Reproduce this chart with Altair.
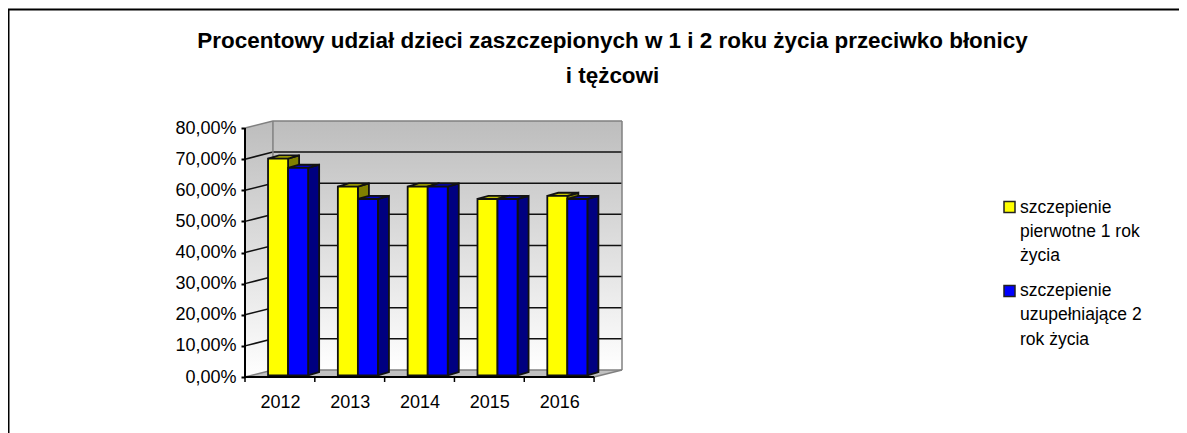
import altair as alt
import pandas as pd

years = ["2012", "2013", "2014", "2015", "2016"]
first_year = [70, 61, 61, 57, 58]
second_year = [67, 57, 61, 57, 57]
series_names = ["szczepienie pierwotne 1 rok życia", "szczepienie uzupełniające 2 rok życia"]
legend_lines = [["szczepienie", "pierwotne 1 rok", "życia"], ["szczepienie", "uzupełniające 2", "rok życia"]]
title_lines = ["Procentowy udział dzieci zaszczepionych w 1 i 2 roku życia przeciwko błonicy", "i tężcowi"]
grid_values = [0, 10, 20, 30, 40, 50, 60, 70, 80]

W, H = 377, 264
DX, DY = 0.4, 2.26          # perspective depth of the walls, in data units
XMAX = 5 + DX
YMIN, YMAX = -2.57, 80 + DY
BX, BY = 0.158, 1.0         # perspective depth of a bar
BASE = 0.55
LIFT = 0.2

xs = alt.Scale(domain=[0, XMAX], nice=False, zero=False)
ys = alt.Scale(domain=[YMIN, YMAX], nice=False, zero=False)
x_ax = alt.Axis(
    values=[i + 0.5 for i in range(len(years))], title=None, domain=False, grid=False,
    ticks=False, labelPadding=8, labelFont="Liberation Sans", labelFontSize=18, labelColor="#000000",
    labelExpr="['" + "','".join(years) + "'][floor(datum.value)]")
y_ax = alt.Axis(
    values=grid_values, title=None, domain=False, grid=False,
    tickSize=4, tickColor="#000000", tickWidth=2, labelPadding=5,
    labelFont="Liberation Sans", labelFontSize=18, labelColor="#000000",
    labelExpr="replace(format(datum.value,'.2f'),'.',',')+'%'")
X = lambda f="x": alt.X(f"{f}:Q", scale=xs, axis=x_ax)
Y = lambda f="y": alt.Y(f"{f}:Q", scale=ys, axis=y_ax)

wall_grad = alt.Gradient(gradient="linear", x1=0, x2=0, y1=0, y2=1,
                         stops=[alt.GradientStop(color="#bdbdbd", offset=0),
                                alt.GradientStop(color="#ffffff", offset=1)])

def area(rows, **kw):
    return alt.Chart(pd.DataFrame(rows)).mark_area(**kw).encode(
        x=X(), y=Y(), y2=alt.Y2("y2:Q"), detail="g:N")

def lines(rows, **kw):
    return alt.Chart(pd.DataFrame(rows)).mark_line(**kw).encode(
        x=X(), y=Y(), detail="g:N")

side_wall = area([dict(g=0, x=0, y=0, y2=80), dict(g=0, x=DX, y=DY, y2=80 + DY)],
                 color=wall_grad)
back_wall = area([dict(g=0, x=DX, y=DY, y2=80 + DY), dict(g=0, x=XMAX, y=DY, y2=80 + DY)],
                 color=wall_grad)
floor = area([dict(g=0, x=0, y=0, y2=0), dict(g=0, x=DX, y=0, y2=DY),
              dict(g=0, x=5, y=0, y2=DY), dict(g=0, x=XMAX, y=DY, y2=DY)],
             color="#c0c0c0")

grid_rows = []
for v in grid_values[1:-1]:
    grid_rows += [dict(g=v, x=0, y=v), dict(g=v, x=DX, y=v + DY), dict(g=v, x=XMAX, y=v + DY)]
grid = lines(grid_rows, color="#111111", strokeWidth=1.5)

border = lines([dict(g=1, x=0, y=80), dict(g=1, x=DX, y=80 + DY), dict(g=1, x=XMAX, y=80 + DY),
                dict(g=2, x=XMAX, y=80 + DY), dict(g=2, x=XMAX, y=DY),
                dict(g=3, x=5, y=0), dict(g=3, x=XMAX, y=DY),
                dict(g=4, x=DX, y=80 + DY), dict(g=4, x=DX, y=DY),
                dict(g=5, x=0, y=0), dict(g=5, x=DX, y=DY),
                dict(g=6, x=DX, y=DY), dict(g=6, x=XMAX, y=DY)],
               color="#808080", strokeWidth=1.5)

def bar_layers(values, off, front, side, top):
    sides, tops, fronts = [], [], []
    for i, v in enumerate(values):
        l = i + off
        r = l + 0.287
        t = v + LIFT
        sides += [dict(g=i, x=r, y=BASE, y2=t), dict(g=i, x=r + BX, y=BASE + BY, y2=t + BY)]
        tops += [dict(g=i, x=l, y=t, y2=t), dict(g=i, x=l + BX, y=t, y2=t + BY),
                 dict(g=i, x=r, y=t, y2=t + BY), dict(g=i, x=r + BX, y=t + BY, y2=t + BY)]
        fronts.append(dict(x=l, x2=r, y=BASE, y2=t))
    a = area(sides, color=side, stroke="#111111", strokeWidth=1.8)
    b = area(tops, color=top, stroke="#111111", strokeWidth=1.8)
    c = alt.Chart(pd.DataFrame(fronts)).mark_rect(color=front, stroke="#111111", strokeWidth=1.8).encode(
        x=X(), x2=alt.X2("x2:Q"), y=Y(), y2=alt.Y2("y2:Q"))
    return [a, b, c]

bars1 = bar_layers(first_year, 0.33, "#ffff00", "#808000", "#c4c400")
bars2 = bar_layers(second_year, 0.617, "#0000ff", "#000080", "#0000c4")

axis_lines = lines([dict(g=1, x=0, y=80), dict(g=1, x=0, y=0),
                    dict(g=2, x=0, y=0), dict(g=2, x=5, y=0)],
                   color="#000000", strokeWidth=2)
x_ticks = alt.Chart(pd.DataFrame({"x": list(range(6)), "y": [0] * 6, "y2": [-1.6] * 6})).mark_rule(
    color="#000000", strokeWidth=1.5).encode(x=X(), y=Y(), y2=alt.Y2("y2:Q"))

# legend, placed relative to the plot's origin
OX, OY = 245, 121
legend_symbols = pd.DataFrame({"s": series_names, "px": [1009.5 - OX, 1009.5 - OX], "py": [207 - OY, 291 - OY]})
legend_marks = alt.Chart(legend_symbols).mark_square(size=121, opacity=1, stroke="#222222", strokeWidth=1.5).encode(
    x=alt.X("px:Q", scale=None), y=alt.Y("py:Q", scale=None),
    fill=alt.Color("s:N", scale=alt.Scale(domain=series_names, range=["#ffff00", "#0000ff"]), legend=None))
text_rows = []
for k, block in enumerate(legend_lines):
    for j, line in enumerate(block):
        text_rows.append(dict(t=line, px=1020 - OX, py=[207.5, 291][k] + j * 24.3 - OY))
legend_text = alt.Chart(pd.DataFrame(text_rows)).mark_text(
    align="left", baseline="middle", font="Liberation Sans", fontSize=17.5, color="#000000").encode(
    x=alt.X("px:Q", scale=None), y=alt.Y("py:Q", scale=None), text="t:N")

# thin frame around the picture
frame_top = alt.Chart(pd.DataFrame({"a": [0]})).mark_rule(color="#000000", strokeWidth=2).encode(
    x=alt.value(8 - OX), x2=alt.value(1179 - OX), y=alt.value(9.5 - OY))
frame_left = alt.Chart(pd.DataFrame({"a": [0]})).mark_rule(color="#000000", strokeWidth=2).encode(
    x=alt.value(8.5 - OX), y=alt.value(9 - OY), y2=alt.value(433 - OY))

chart = alt.layer(
    side_wall, back_wall, floor, grid, border, *bars1, *bars2,
    axis_lines, x_ticks, legend_marks, legend_text, frame_top, frame_left,
).properties(
    width=W, height=H,
    title=alt.TitleParams(text=title_lines, font="Liberation Sans", fontSize=22.45, fontWeight="bold",
                          color="#000000", lineHeight=35, anchor="middle", dx=612.5 - (245 + W / 2),
                          dy=79, baseline="top", offset=0),
    padding={"left": OX - 8, "top": OY - 8, "right": 1171 - (OX - 8) - W, "bottom": 425 - (OY - 8) - H},
    autosize=alt.AutoSizeParams(type="none"),
).configure_view(stroke=None)

chart.save("out.html", embed_options={"renderer": "svg", "actions": False})
